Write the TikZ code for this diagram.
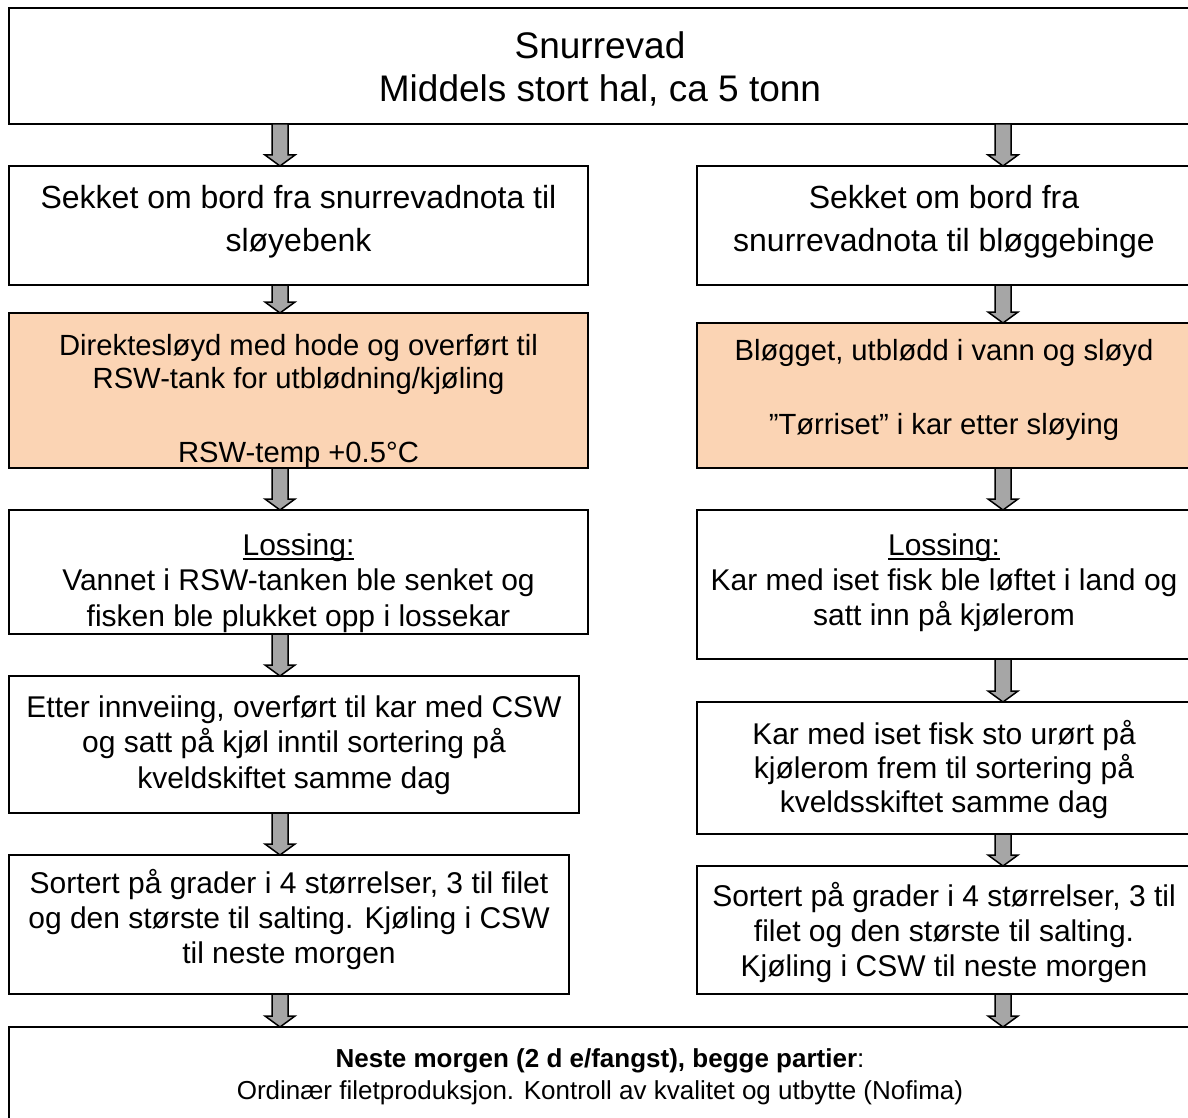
\documentclass[tikz,border=0pt]{standalone}
\usepackage{fontspec}
\setmainfont{Liberation Sans}
\usetikzlibrary{positioning}
\usetikzlibrary{calc}

\definecolor{peachfill}{HTML}{FBD4B4}
\definecolor{arrowgray}{HTML}{A6A6A6}

\tikzset{
  box/.style={draw, line width=1pt, inner sep=0pt, outer sep=0pt},
  peachbox/.style={box, fill=peachfill},
  txt/.style={align=center, inner sep=0pt, outer sep=0pt},
  blockarrow/.style={draw, fill=arrowgray, line width=0.75pt, line join=miter},
}

% underlined heading word
\newcommand{\ulword}[1]{\vtop{\setbox0\hbox{#1}\dp0=0pt\box0\kern1.4pt\hrule height0.9pt}}

% grey block arrow going down from #1 to #2
\newcommand{\flowarrow}[2]{%
  \draw[blockarrow] let \p1=(#1), \p2=(#2) in
    (\x1-4pt,\y1) -- (\x1-4pt,\y2+5.5pt) -- (\x1-7.5pt,\y2+5.5pt) -- (\x1,\y2)
    -- (\x1+7.5pt,\y2+5.5pt) -- (\x1+4pt,\y2+5.5pt) -- (\x1+4pt,\y1) -- cycle;}

\begin{document}
\begin{tikzpicture}[x=0.5pt, y=-0.5pt]
  \path[use as bounding box] (0,0) rectangle (1188,1118);
  \clip (0,0) rectangle (1188,1118);

  \coordinate (colL) at (280,0);
  \coordinate (colR) at (1003,0);

  % boxes
  \node[box, minimum width=591pt, minimum height=58pt] (top) at (600,66) {};
  \node[box, minimum width=289.5pt, minimum height=59.5pt] (l1) at (298.5,225.5) {};
  \node[box, minimum width=247pt, minimum height=59.5pt] (r1) at (944,225.5) {};
  \node[peachbox, minimum width=289.5pt, minimum height=77.5pt] (l2) at (298.5,390.5) {};
  \node[peachbox, minimum width=247pt, minimum height=72.5pt] (r2) at (944,395.5) {};
  \node[box, minimum width=289.5pt, minimum height=62pt] (l3) at (298.5,572) {};
  \node[box, minimum width=247pt, minimum height=74.5pt] (r3) at (944,584.5) {};
  \node[box, minimum width=285pt, minimum height=68.5pt] (l4) at (294,744.5) {};
  \node[box, minimum width=247pt, minimum height=66pt] (r4) at (944,768) {};
  \node[box, minimum width=280pt, minimum height=69.5pt] (l5) at (289,924.5) {};
  \node[box, minimum width=247pt, minimum height=64pt] (r5) at (944,930) {};
  \node[box, minimum width=591pt, minimum height=51.5pt] (bot) at (600,1078.5) {};

  % texts
  \node[txt, font=\fontsize{18.5}{21.5}\selectfont, below=12pt of top.north] (topt)
    {Snurrevad\\Middels stort hal, ca 5 tonn};
  \node[txt, font=\fontsize{16}{21.5}\selectfont, below=9.8pt of l1.north] (l1t)
    {Sekket om bord fra snurrevadnota til\\sløyebenk};
  \node[txt, font=\fontsize{16}{21.5}\selectfont, below=9.8pt of r1.north] (r1t)
    {Sekket om bord fra\\snurrevadnota til bløggebinge};
  \begin{scope}
    \clip ([shift={(-1pt,1pt)}]l2.north west) rectangle ([shift={(1pt,-0.5pt)}]l2.south east);
    \node[txt, font=\fontsize{14.6}{16.5}\selectfont, below=10.8pt of l2.north] (l2t)
      {Direktesløyd med hode og overført til\\RSW-tank for utblødning/kjøling\\[20.5pt]RSW-temp +0.5°C};
  \end{scope}
  \node[txt, font=\fontsize{14.6}{18.5}\selectfont, below=8pt of r2.north] (r2t)
    {Bløgget, utblødd i vann og sløyd\\[18.5pt]”Tørriset” i kar etter sløying};
  \begin{scope}
    \clip ([shift={(-1pt,1pt)}]l3.north west) rectangle ([shift={(1pt,-0.5pt)}]l3.south east);
    \node[txt, font=\fontsize{15}{17.5}\selectfont, below=11.8pt of l3.north] (l3t)
      {\ulword{Lossing:}\\Vannet i RSW-tanken ble senket og\\[0.8pt]fisken ble plukket opp i lossekar};
  \end{scope}
  \node[txt, font=\fontsize{15}{17.5}\selectfont, below=11.8pt of r3.north] (r3t)
    {\ulword{Lossing:}\\Kar med iset fisk ble løftet i land og\\satt inn på kjølerom};
  \node[txt, font=\fontsize{15}{17.75}\selectfont, below=9.8pt of l4.north] (l4t)
    {Etter innveiing, overført til kar med CSW\\og satt på kjøl inntil sortering på\\kveldskiftet samme dag};
  \node[txt, font=\fontsize{15}{17}\selectfont, below=9.3pt of r4.north] (r4t)
    {Kar med iset fisk sto urørt på\\kjølerom frem til sortering på\\kveldsskiftet samme dag};
  \node[txt, font=\fontsize{15}{17.5}\selectfont, below=7.3pt of l5.north] (l5t)
    {Sortert på grader i 4 størrelser, 3 til filet\\og den største til salting. Kjøling i CSW\\til neste morgen};
  \node[txt, font=\fontsize{15}{17.5}\selectfont, below=8.3pt of r5.north] (r5t)
    {Sortert på grader i 4 størrelser, 3 til\\filet og den største til salting.\\Kjøling i CSW til neste morgen};
  \node[txt, font=\fontsize{13}{16}\selectfont, below=10.8pt of bot.north] (bott)
    {\textbf{Neste morgen (2 d e/fangst), begge partier}:\\Ordinær filetproduksjon. Kontroll av kvalitet og utbytte (Nofima)};

  % arrows
  \flowarrow{colL |- top.south}{colL |- l1.north}
  \flowarrow{colR |- top.south}{colR |- r1.north}
  \flowarrow{colL |- l1.south}{colL |- l2.north}
  \flowarrow{colR |- r1.south}{colR |- r2.north}
  \flowarrow{colL |- l2.south}{colL |- l3.north}
  \flowarrow{colR |- r2.south}{colR |- r3.north}
  \flowarrow{colL |- l3.south}{colL |- l4.north}
  \flowarrow{colR |- r3.south}{colR |- r4.north}
  \flowarrow{colL |- l4.south}{colL |- l5.north}
  \flowarrow{colR |- r4.south}{colR |- r5.north}
  \flowarrow{colL |- l5.south}{colL |- bot.north}
  \flowarrow{colR |- r5.south}{colR |- bot.north}
\end{tikzpicture}
\end{document}
